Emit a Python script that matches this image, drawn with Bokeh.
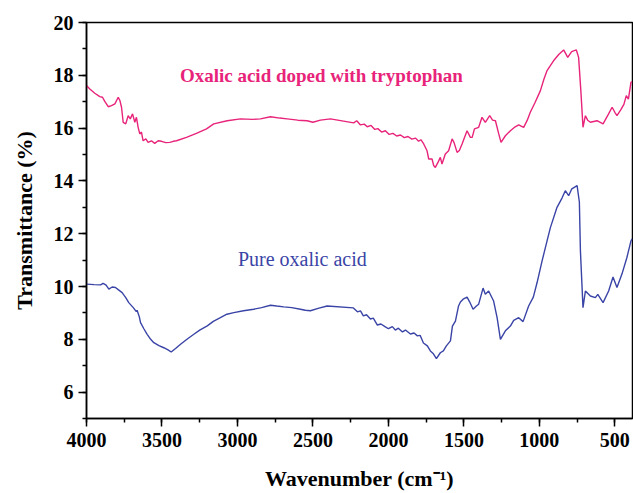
from bokeh.plotting import figure
from bokeh.models import Range1d, FixedTicker, Label
from bokeh.embed import file_html
from bokeh.resources import INLINE

# Oxalic acid doped with tryptophan
wn_trp = [4000, 3978, 3945, 3912, 3894, 3879, 3856, 3834, 3812, 3790, 3779, 3768, 3757, 3740, 3724,
          3710, 3695, 3680, 3669, 3658, 3647, 3636, 3625, 3607, 3592, 3570, 3548, 3525, 3503, 3475,
          3448, 3425, 3404, 3338, 3272, 3205, 3157, 3068, 2980, 2900, 2848, 2781, 2720, 2671, 2600,
          2539, 2500, 2450, 2384, 2230, 2210, 2185, 2160, 2140, 2115, 2090, 2070, 2045, 2020, 1995,
          1970, 1945, 1920, 1895, 1870, 1845, 1820, 1800, 1785, 1766, 1744, 1733, 1711, 1700, 1689,
          1670, 1656, 1645, 1623, 1601, 1578, 1565, 1545, 1530, 1512, 1479, 1457, 1445, 1430, 1402,
          1380, 1358, 1329, 1310, 1291, 1269, 1254, 1225, 1192, 1160, 1137, 1104, 1080, 1060, 1030,
          993, 970, 949, 905, 870, 839, 812, 786, 755, 740, 725, 711, 695, 680, 662,
          640, 618, 578, 545, 518, 500, 486, 460, 440, 424, 410, 393, 385]
t_trp = [17.61, 17.48, 17.32, 17.19, 17.17, 17.01, 16.81, 16.85, 16.92, 17.17, 17.05, 16.79, 16.22, 16.16, 16.47,
         16.35, 16.54, 16.22, 16.41, 16.03, 15.78, 15.85, 15.52, 15.59, 15.46, 15.52, 15.42, 15.52, 15.50, 15.45,
         15.46, 15.50, 15.52, 15.65, 15.80, 15.97, 16.16, 16.28, 16.35, 16.33, 16.35, 16.43, 16.38, 16.35, 16.30,
         16.28, 16.22, 16.30, 16.35, 16.20, 16.28, 16.12, 16.15, 16.05, 16.10, 15.95, 15.98, 15.85, 15.90, 15.76,
         15.80, 15.70, 15.74, 15.64, 15.68, 15.58, 15.62, 15.50, 15.56, 15.40, 15.14, 14.83, 14.83, 14.58, 14.51,
         14.72, 14.89, 14.64, 15.02, 15.14, 15.59, 15.45, 15.08, 15.15, 15.40, 15.90, 15.65, 15.65, 15.97, 16.03,
         16.41, 16.22, 16.47, 16.30, 16.28, 15.78, 15.46, 15.71, 15.90, 16.05, 16.12, 16.03, 16.30, 16.60, 16.95,
         17.42, 17.85, 18.18, 18.56, 18.80, 18.96, 18.68, 18.90, 18.96, 18.68, 17.40, 16.03, 16.47, 16.30, 16.22,
         16.25, 16.28, 16.16, 16.50, 16.79, 16.60, 16.47, 16.70, 16.90, 17.23, 17.10, 17.74, 17.75]

# Pure oxalic acid
wn_pure = [4000, 3950, 3907, 3890, 3870, 3852, 3830, 3808, 3790, 3764, 3740, 3720, 3690, 3670, 3665,
           3650, 3642, 3620, 3598, 3575, 3554, 3520, 3488, 3460, 3439, 3410, 3377, 3330, 3289, 3250,
           3200, 3160, 3113, 3070, 3024, 2960, 2892, 2840, 2781, 2740, 2693, 2640, 2583, 2550, 2517,
           2460, 2406, 2232, 2205, 2185, 2166, 2145, 2119, 2100, 2073, 2050, 2020, 2000, 1974, 1954,
           1934, 1907, 1887, 1854, 1830, 1808, 1790, 1768, 1742, 1722, 1702, 1682, 1656, 1636, 1616,
           1589, 1576, 1556, 1536, 1523, 1505, 1479, 1462, 1439, 1417, 1402, 1373, 1358, 1336, 1303,
           1280, 1258, 1225, 1192, 1170, 1137, 1108, 1071, 1040, 1015, 982, 949, 927, 883, 850,
           828, 806, 785, 750, 735, 728, 711, 695, 662, 629, 613, 578, 541, 512, 486,
           453, 420, 393, 385]
t_pure = [10.09, 10.07, 10.06, 10.12, 10.05, 9.90, 9.98, 9.96, 9.88, 9.77, 9.58, 9.39, 9.20, 9.05, 9.10,
          8.85, 8.63, 8.40, 8.19, 8.00, 7.87, 7.76, 7.68, 7.60, 7.52, 7.65, 7.81, 8.02, 8.19, 8.35,
          8.51, 8.68, 8.82, 8.95, 9.01, 9.08, 9.14, 9.20, 9.29, 9.26, 9.23, 9.20, 9.14, 9.10, 9.08,
          9.18, 9.26, 9.19, 9.04, 9.08, 8.89, 8.93, 8.77, 8.80, 8.54, 8.58, 8.47, 8.40, 8.48, 8.35,
          8.42, 8.28, 8.35, 8.20, 8.24, 8.13, 8.15, 7.86, 7.75, 7.56, 7.45, 7.27, 7.49, 7.56, 7.75,
          7.94, 8.50, 8.69, 9.25, 9.41, 9.52, 9.60, 9.42, 9.14, 9.26, 9.33, 9.94, 9.71, 9.83, 9.45,
          8.82, 8.00, 8.32, 8.50, 8.72, 8.82, 8.67, 9.26, 9.60, 10.15, 10.97, 11.73, 12.23, 13.00, 13.35,
          13.63, 13.44, 13.70, 13.82, 13.20, 11.35, 9.20, 9.83, 9.64, 9.58, 9.70, 9.39, 9.83, 10.36, 9.96,
          10.47, 11.10, 11.73, 11.80]

x_major = [4000, 3500, 3000, 2500, 2000, 1500, 1000, 500]
x_minor = list(range(500, 4001, 250))
y_major = [6, 8, 10, 12, 14, 16, 18, 20]
y_minor = list(range(5, 21))

label_trp = "Oxalic acid doped with tryptophan"
label_pure = "Pure oxalic acid"

PINK = "#E8237A"
BLUE = "#3A44A6"
FONT = "Liberation Serif"

p = figure(frame_width=546, frame_height=396, output_backend="svg", toolbar_location=None,
           x_range=Range1d(4000, 383), y_range=Range1d(5, 20),
           min_border_left=86, min_border_right=1, min_border_top=22, min_border_bottom=74)
p.background_fill_color = "white"
p.border_fill_color = "white"
p.outline_line_color = "black"
p.outline_line_width = 1.5
p.xgrid.visible = False
p.ygrid.visible = False

p.line(wn_trp, t_trp, line_color=PINK, line_width=1.4)
p.line(wn_pure, t_pure, line_color=BLUE, line_width=1.4)

p.add_layout(Label(x=2444, y=18.0, text=label_trp, text_color=PINK, text_font=FONT,
                   text_font_size="19px", text_font_style="bold", text_align="center",
                   text_baseline="middle"))
p.add_layout(Label(x=2570, y=11.05, text=label_pure, text_color=BLUE, text_font=FONT,
                   text_font_size="20px", text_align="center", text_baseline="middle"))

for ax in (p.xaxis[0], p.yaxis[0]):
    ax.axis_line_width = 1.5
    ax.major_tick_line_width = 1.5
    ax.minor_tick_line_width = 1.5
    ax.major_tick_in = 0
    ax.major_tick_out = 8
    ax.minor_tick_in = 0
    ax.minor_tick_out = 4
    ax.major_label_text_font = FONT
    ax.major_label_text_font_style = "bold"
    ax.major_label_text_font_size = "20px"
    ax.major_label_text_color = "black"
    ax.axis_label_text_font = FONT
    ax.axis_label_text_font_style = "bold"
    ax.axis_label_text_font_size = "22px"
    ax.axis_label_text_color = "black"

p.xaxis[0].ticker = FixedTicker(ticks=x_major, minor_ticks=x_minor)
p.yaxis[0].ticker = FixedTicker(ticks=y_major, minor_ticks=y_minor)
p.xaxis[0].axis_label = "Wavenumber (cm\u207b\u00b9)"
p.yaxis[0].axis_label = "Transmittance (%)"
p.xaxis[0].major_label_standoff = 6
p.yaxis[0].major_label_standoff = 5
p.xaxis[0].axis_label_standoff = 16
p.yaxis[0].axis_label_standoff = 14

open("out.html", "w").write(file_html(p, INLINE))
